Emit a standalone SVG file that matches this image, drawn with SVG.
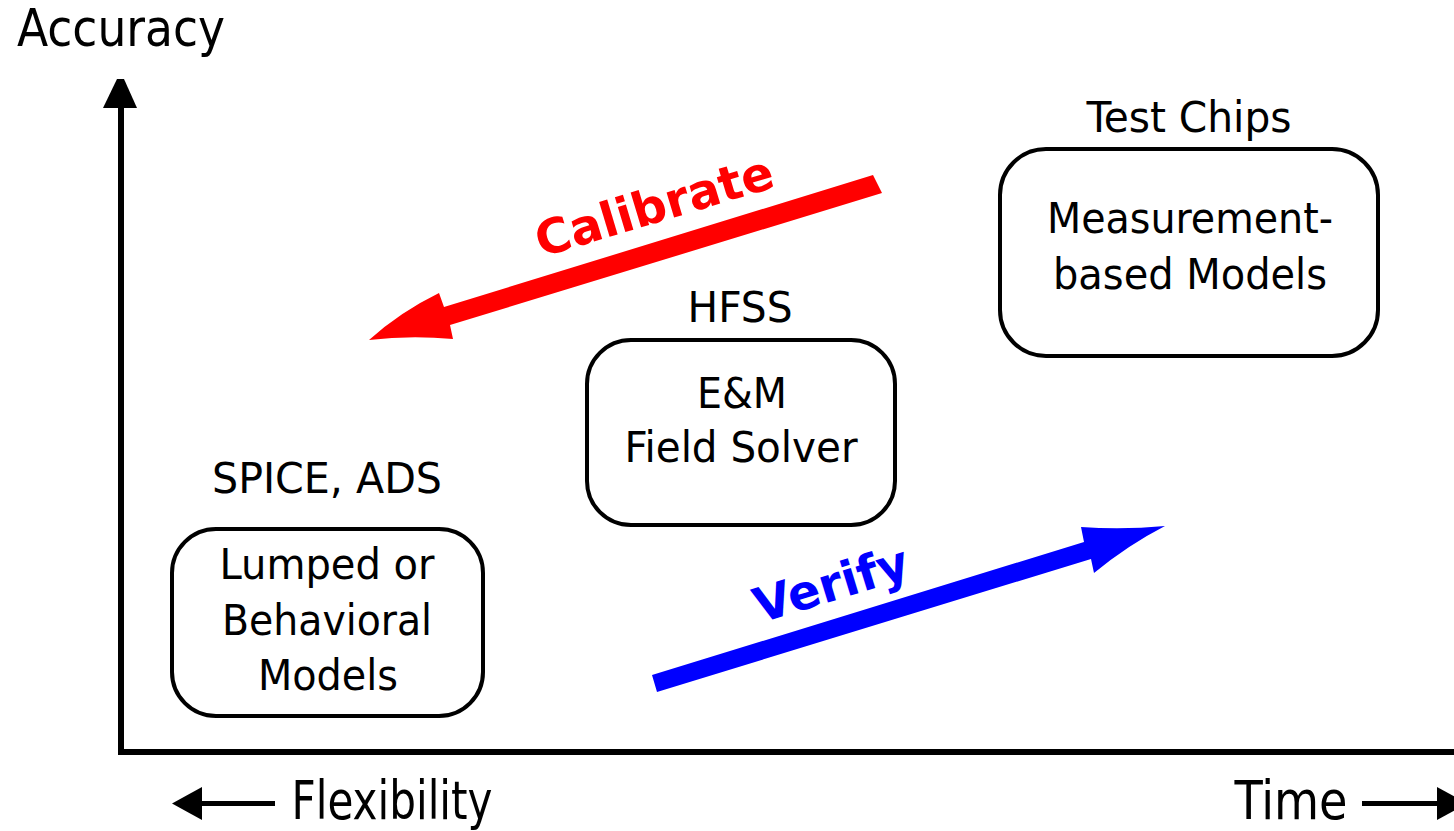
<svg xmlns="http://www.w3.org/2000/svg" width="1454" height="831" viewBox="0 0 1454 831">
<style>
  .t { font-family: "DejaVu Sans Condensed", "DejaVu Sans", "Liberation Sans", sans-serif; font-stretch: condensed; fill: #000; text-anchor: middle; }
  .lbl { font-size: 43px; }
  .box { fill: #fff; stroke: #000; stroke-width: 4; }
  .ax { stroke: #000; stroke-width: 6; fill: none; }
  .bx { stroke: #000; stroke-width: 5; fill: none; }
  .bold { font-family: "DejaVu Sans", "Liberation Sans", sans-serif; font-weight: bold; font-size: 48px; text-anchor: middle; }
</style>
<rect width="1454" height="831" fill="#fff"/>

<g id="axes">
  <line class="ax" x1="121" y1="106" x2="121" y2="755"/>
  <line class="ax" x1="118" y1="752" x2="1454" y2="752"/>
  <polygon points="103,108 117,79 124,79 137,108" fill="#000"/>
  <text class="t" x="121" y="46" style="font-size:52px" textLength="208" lengthAdjust="spacingAndGlyphs">Accuracy</text>
  <line class="bx" x1="198" y1="803.5" x2="275" y2="803.5"/>
  <polygon points="172,803.5 202,787 202,820" fill="#000"/>
  <text class="t" x="392" y="819" style="font-size:53px" textLength="201" lengthAdjust="spacingAndGlyphs">Flexibility</text>
  <line class="bx" x1="1362" y1="803.5" x2="1440" y2="803.5"/>
  <polygon points="1437,787 1437,820 1467,803.5" fill="#000"/>
  <text class="t" x="1291" y="819" style="font-size:53px" textLength="113" lengthAdjust="spacingAndGlyphs">Time</text>
</g>

<g id="connectors">
  <g id="calibrate">
    <path d="M873,175 L882,193 L450,325 L453,339 Q410,335 369,340 Q400,312 439,293 L444,307 Z" fill="#ff0000"/>
    <text class="bold" fill="#ff0000" x="659" y="222" transform="rotate(-16.7 659 222)">Calibrate</text>
  </g>
  <g id="verify">
    <path d="M652,675 L657,692 L1091,559 L1094,573 Q1128,545 1165,526 Q1123,530 1081,527 L1084,542 Z" fill="#0000ff"/>
    <text class="bold" fill="#0000ff" x="836" y="600" transform="rotate(-17 836 600)">Verify</text>
  </g>
</g>

<g id="node-lumped">
  <rect class="box" x="172" y="529" width="311" height="187" rx="44"/>
  <text class="t lbl" x="327" y="493" textLength="230" lengthAdjust="spacingAndGlyphs">SPICE, ADS</text>
  <text class="t lbl" x="327" y="579" textLength="215" lengthAdjust="spacingAndGlyphs">Lumped or</text>
  <text class="t lbl" x="327" y="635" textLength="210" lengthAdjust="spacingAndGlyphs">Behavioral</text>
  <text class="t lbl" x="328" y="690" textLength="140" lengthAdjust="spacingAndGlyphs">Models</text>
</g>

<g id="node-em">
  <rect class="box" x="587" y="340" width="308" height="185" rx="44"/>
  <text class="t lbl" x="740" y="322" textLength="105" lengthAdjust="spacingAndGlyphs">HFSS</text>
  <text class="t lbl" x="742" y="408" textLength="90" lengthAdjust="spacingAndGlyphs">E&amp;M</text>
  <text class="t lbl" x="741" y="462" textLength="233" lengthAdjust="spacingAndGlyphs">Field Solver</text>
</g>

<g id="node-measure">
  <rect class="box" x="1000" y="149" width="378" height="207" rx="46"/>
  <text class="t lbl" x="1189" y="132" textLength="205" lengthAdjust="spacingAndGlyphs">Test Chips</text>
  <text class="t lbl" x="1190" y="233" textLength="286" lengthAdjust="spacingAndGlyphs">Measurement-</text>
  <text class="t lbl" x="1190" y="289" textLength="274" lengthAdjust="spacingAndGlyphs">based Models</text>
</g>
</svg>
